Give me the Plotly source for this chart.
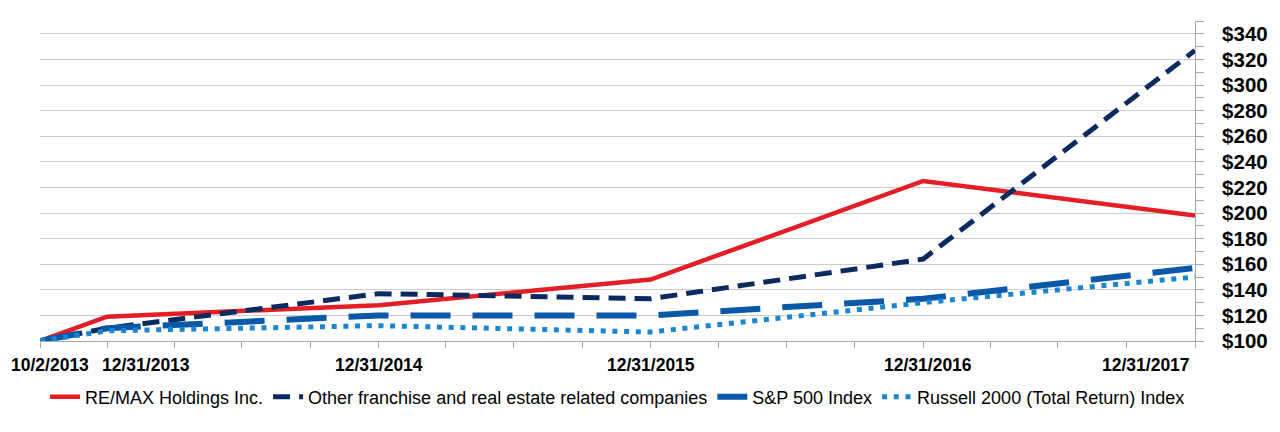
import plotly.graph_objects as go

# cumulative total return, $100 invested on 10/2/2013
dates = ["2013-10-02", "2013-12-31", "2014-12-31", "2015-12-31", "2016-12-31", "2017-12-31"]
remax = [100, 119, 128, 148, 225, 198]
other_franchise = [100, 110, 137, 133, 164, 327]
sp500 = [100, 110, 120, 120, 133, 157]
russell2000 = [100, 108, 112, 107, 130, 150]

series_names = ["RE/MAX Holdings Inc.",
                "Other franchise and real estate related companies",
                "S&P 500 Index",
                "Russell 2000 (Total Return) Index"]

# quarterly tick marks on the date axis
quarter_ticks = ["2013-10-02", "2013-12-31",
                 "2014-03-31", "2014-06-30", "2014-09-30", "2014-12-31",
                 "2015-03-31", "2015-06-30", "2015-09-30", "2015-12-31",
                 "2016-03-31", "2016-06-30", "2016-09-30", "2016-12-31",
                 "2017-03-31", "2017-06-30", "2017-09-30", "2017-12-31"]
label_dates = dates
label_text = ["10/2/2013", "12/31/2013", "12/31/2014", "12/31/2015", "12/31/2016", "12/31/2017"]

font_name = "Liberation Sans, Arial, sans-serif"
grey = "#a6a6a6"

fig = go.Figure()

fig.add_trace(go.Scatter(x=dates, y=remax, name=series_names[0], mode="lines",
                         line=dict(color="#e31e26", width=4.5)))
fig.add_trace(go.Scatter(x=dates, y=other_franchise, name=series_names[1], mode="lines",
                         line=dict(color="#0b2a5e", width=5, dash="17px,9px")))
fig.add_trace(go.Scatter(x=dates, y=sp500, name=series_names[2], mode="lines",
                         line=dict(color="#0a58a8", width=6, dash="40px,22px")))
fig.add_trace(go.Scatter(x=dates, y=russell2000, name=series_names[3], mode="lines",
                         line=dict(color="#1b86cf", width=5, dash="5px,6.7px")))

# date labels sit under the ticks, nudged like the original
shifts = [-31, 39, 0, 0, 5, -3]
anchors = ["left", "center", "center", "center", "center", "right"]
for d, t, s, a in zip(label_dates, label_text, shifts, anchors):
    fig.add_annotation(x=d, y=0, xref="x", yref="paper", text="<b>%s</b>" % t,
                       showarrow=False, xanchor=a, yanchor="middle", xshift=s, yshift=-24,
                       font=dict(family=font_name, size=17.5, color="#000000"))

# the page body puts 8px in front of the plot div, so the figure is 8px smaller
fig.update_layout(
    width=1272, height=424,
    margin=dict(l=32, r=74, t=13, b=91),
    paper_bgcolor="white", plot_bgcolor="white",
    showlegend=True,
    legend=dict(orientation="h", x=0.5, xanchor="center", y=-0.175, yanchor="middle",
                font=dict(family=font_name, size=18, color="#000000"),
                itemwidth=30, tracegroupgap=0),
    xaxis=dict(type="date", range=["2013-10-02", "2017-12-31"],
               tickmode="array", tickvals=quarter_ticks, showticklabels=False,
               ticks="outside", ticklen=6, tickcolor=grey,
               showgrid=False, showline=True, linecolor=grey, linewidth=1, zeroline=False),
    yaxis=dict(side="right", range=[100, 350], tick0=100, dtick=20, tickprefix="$",
               showgrid=True, gridcolor="#cccccc", gridwidth=1,
               ticks="outside", ticklen=8, tickcolor=grey,
               minor=dict(dtick=10, tick0=100, ticks="outside", ticklen=8, tickcolor=grey, showgrid=False),
               showline=True, linecolor=grey, linewidth=1, zeroline=False,
               ticklabelstandoff=14,
               tickfont=dict(family=font_name, size=20.5, color="#000000", weight="bold")),
    # second copy of the value axis gives the ticks crossing the axis line
    yaxis2=dict(overlaying="y", side="right", anchor="x", range=[100, 350], tick0=100, dtick=20,
                showticklabels=False, showgrid=False, zeroline=False,
                ticks="inside", ticklen=8, tickcolor=grey,
                minor=dict(dtick=10, tick0=100, ticks="inside", ticklen=8, tickcolor=grey)),
)

fig.write_html("out.html")
